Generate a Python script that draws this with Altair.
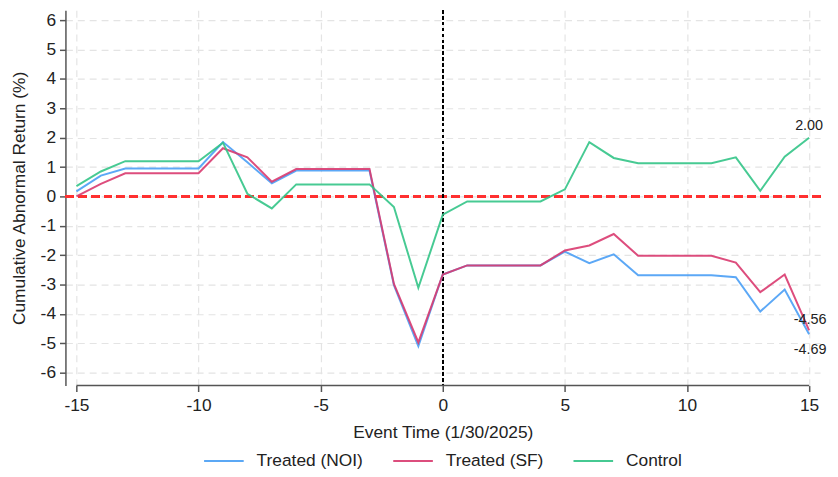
import altair as alt
import pandas as pd

# ---- data ----
event_time = list(range(-15, 16))
treated_noi = [0.17, 0.71, 0.95, 0.95, 0.95, 0.95, 1.85, 1.16, 0.45, 0.88, 0.88, 0.88, 0.88,
               -3.02, -5.10, -2.66, -2.35, -2.35, -2.35, -2.35, -1.88, -2.27, -1.97,
               -2.68, -2.68, -2.68, -2.68, -2.75, -3.92, -3.17, -4.69]
treated_sf = [0.00, 0.43, 0.79, 0.79, 0.79, 0.79, 1.64, 1.33, 0.50, 0.93, 0.93, 0.93, 0.93,
              -2.98, -4.97, -2.66, -2.35, -2.35, -2.35, -2.35, -1.84, -1.67, -1.28,
              -2.02, -2.02, -2.02, -2.02, -2.25, -3.26, -2.66, -4.56]
control = [0.35, 0.85, 1.20, 1.20, 1.20, 1.20, 1.83, 0.09, -0.41, 0.41, 0.41, 0.41, 0.41,
           -0.36, -3.11, -0.62, -0.17, -0.17, -0.17, -0.17, 0.24, 1.85, 1.31,
           1.13, 1.13, 1.13, 1.13, 1.33, 0.19, 1.35, 2.00]

series_names = ["Treated (NOI)", "Treated (SF)", "Control"]
series_colors = ["#4a9ff5", "#d93a6f", "#33c487"]
x_ticks = [-15, -10, -5, 0, 5, 10, 15]
y_ticks = list(range(-6, 7))

FONT = "Liberation Sans"
FS = 17.5

rows = []
for name, vals in zip(series_names, [treated_noi, treated_sf, control]):
    for t, v in zip(event_time, vals):
        rows.append({"t": t, "v": v, "series": name})
df = pd.DataFrame(rows)

end_df = pd.DataFrame({
    "t": [event_time[-1]] * 3,
    "v": [control[-1], treated_sf[-1], treated_noi[-1]],
    "label": [f"{control[-1]:.2f}", f"{treated_sf[-1]:.2f}", f"{treated_noi[-1]:.2f}"],
})

x_scale = alt.Scale(domain=[-15.45, 15.45], nice=False, zero=False)
y_scale = alt.Scale(domain=[-6.44, 6.34], nice=False, zero=False)

x_axis = alt.Axis(values=x_ticks, title="Event Time (1/30/2025)", domain=False,
                  grid=True, tickSize=6, labelPadding=5, titlePadding=10,
                  labelOverlap=False, labelExpr="'' + datum.value")
y_axis = alt.Axis(values=y_ticks, title="Cumulative Abnormal Return (%)", domain=True,
                  grid=True, tickSize=6, labelPadding=4, titlePadding=12,
                  labelOverlap=False, labelExpr="'' + datum.value")

x_enc = alt.X("t:Q", scale=x_scale, axis=x_axis)
y_enc = alt.Y("v:Q", scale=y_scale, axis=y_axis)

lines = alt.Chart(df).mark_line(strokeWidth=2, opacity=0.9).encode(
    x=x_enc,
    y=y_enc,
    color=alt.Color("series:N",
                    scale=alt.Scale(domain=series_names, range=series_colors),
                    sort=series_names,
                    legend=alt.Legend(title=None, orient="none", direction="horizontal",
                                      legendX=139, legendY=434,
                                      symbolType="stroke", symbolSize=1600,
                                      symbolStrokeWidth=2, labelFontSize=FS,
                                      labelFont=FONT, labelColor="#222",
                                      labelOffset=12, columnPadding=26)),
)

zero_line = alt.Chart(df).mark_rule(color="#ff3030", strokeDash=[8, 5], strokeWidth=2).encode(
    y=alt.YDatum(0, type="quantitative", scale=y_scale, axis=y_axis)
)
event_line = alt.Chart(df).mark_rule(color="black", strokeDash=[3, 3], strokeWidth=1.5).encode(
    x=alt.XDatum(0, type="quantitative", scale=x_scale, axis=x_axis)
)
x_axis_line = alt.Chart(pd.DataFrame({"a": [x_ticks[0]], "b": [x_ticks[-1]]})).mark_rule(
    color="#555", strokeWidth=1.5
).encode(x=alt.X("a:Q", scale=x_scale, axis=x_axis), x2="b:Q", y=alt.value(379))

txt_style = dict(font=FONT, fontSize=14.5, color="#222", align="center")
lab_ctrl = alt.Chart(end_df.iloc[[0]]).mark_text(dy=-12, **txt_style).encode(
    x=x_enc, y=y_enc, text="label:N")
lab_sf = alt.Chart(end_df.iloc[[1]]).mark_text(dy=-10, dx=1, **txt_style).encode(
    x=x_enc, y=y_enc, text="label:N")
lab_noi = alt.Chart(end_df.iloc[[2]]).mark_text(dy=16, dx=1, **txt_style).encode(
    x=x_enc, y=y_enc, text="label:N")

chart = alt.layer(
    zero_line, event_line, lines, x_axis_line, lab_ctrl, lab_sf, lab_noi
).properties(
    width=762, height=379,
    autosize=alt.AutoSizeParams(type="none"),
    padding={"left": 58, "top": 0, "right": 10, "bottom": 82},
).configure_view(
    stroke="transparent"
).configure_axis(
    labelFont=FONT, titleFont=FONT, labelFontSize=FS, titleFontSize=FS,
    labelColor="#222", titleColor="#222", titleFontWeight="normal",
    domainColor="#555", domainWidth=1.5, tickColor="#555", tickWidth=1.5,
    gridColor="#e4e4e4", gridDash=[7, 5], gridWidth=1.2,
)

chart.save("out.html", embed_options={"renderer": "svg", "actions": False})
